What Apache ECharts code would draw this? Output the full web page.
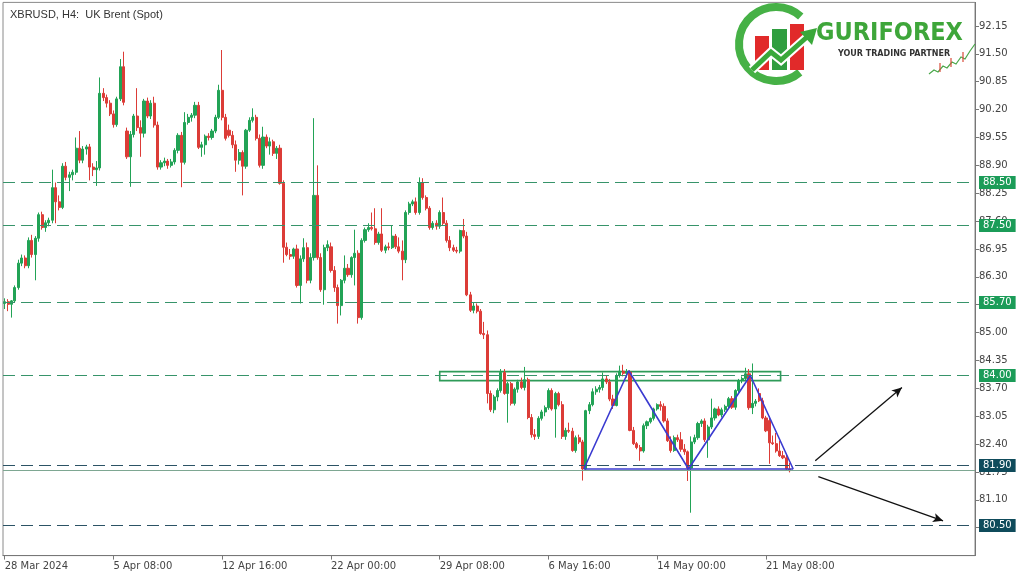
<!DOCTYPE html>
<html><head><meta charset="utf-8">
<script src="https://cdn.jsdelivr.net/npm/echarts@6/dist/echarts.min.js"></script>
<style>html,body{margin:0;padding:0;background:#fff}#c{width:1024px;height:576px}</style>
</head><body><div id="c"></div>
<script>
const chartTitle = 'XBRUSD, H4:  UK Brent (Spot)';
const slotCount = 286;
const tickEvery = 32;
const timeTicks = ['28 Mar 2024','5 Apr 08:00','12 Apr 16:00','22 Apr 00:00','29 Apr 08:00','6 May 16:00','14 May 00:00','21 May 08:00'];
const priceTicks = [80.45,81.10,81.75,82.40,83.05,83.70,84.35,85.00,85.65,86.30,86.95,87.60,88.25,88.90,89.55,90.20,90.85,91.50,92.15];
// [open, high, low, close]
const candles = [
[85.68,85.80,85.55,85.72],[85.72,85.78,85.50,85.66],[85.66,85.76,85.35,85.74],[85.74,86.10,85.70,86.05],
[86.05,86.70,86.00,86.62],[86.62,86.82,86.55,86.74],[86.74,86.80,86.50,86.56],[86.56,87.22,86.50,87.15],
[87.15,87.28,86.75,86.82],[86.82,87.25,86.22,87.20],[87.20,87.80,87.12,87.75],[87.75,87.82,87.40,87.45],
[87.45,87.62,87.35,87.56],[87.56,87.68,87.48,87.62],[87.62,88.80,87.55,88.38],[88.38,88.50,87.55,88.05],
[88.05,88.20,87.85,87.92],[87.92,88.95,87.88,88.88],[88.88,88.98,88.55,88.62],[88.62,88.75,88.30,88.68],
[88.68,88.80,88.55,88.74],[88.74,89.55,88.68,89.30],[89.30,89.70,88.95,89.02],[89.02,89.35,88.95,89.28],
[89.28,89.38,89.15,89.33],[89.33,89.40,88.55,88.86],[88.86,88.95,88.65,88.80],[88.80,89.00,88.42,88.84],
[88.84,90.95,88.78,90.58],[90.58,90.70,90.40,90.48],[90.48,90.55,90.25,90.35],[90.35,90.42,90.05,90.10],
[90.10,90.18,89.78,89.85],[89.85,90.50,89.80,90.45],[90.45,91.38,90.40,91.20],[91.20,91.55,90.30,90.37],
[89.70,89.78,89.05,89.10],[89.10,89.70,88.40,89.62],[89.62,90.10,89.55,90.05],[90.05,90.70,89.70,89.78],
[89.78,89.95,89.10,89.65],[89.65,90.45,89.55,90.40],[90.40,90.48,90.00,90.05],[90.05,90.42,89.98,90.35],
[90.35,90.50,89.78,89.84],[89.84,89.92,88.80,88.86],[88.86,89.02,88.80,88.96],[88.96,89.08,88.88,89.00],
[89.00,89.05,88.82,88.90],[88.90,89.05,88.85,88.98],[88.98,89.30,88.92,89.25],[89.25,89.65,89.18,89.60],
[89.60,89.68,88.39,88.97],[88.97,90.14,88.92,89.90],[89.90,90.10,89.85,90.02],[90.02,90.12,89.92,90.07],
[90.07,90.38,90.00,90.30],[90.30,90.38,89.28,89.32],[89.32,89.45,89.10,89.38],[89.38,89.62,89.15,89.58],
[89.58,89.65,89.48,89.55],[89.55,89.75,89.50,89.70],[89.70,90.08,89.65,90.02],[90.02,90.78,89.98,90.65],
[90.65,91.59,89.95,90.02],[90.02,90.10,89.48,89.53],[89.72,89.85,89.55,89.60],[89.60,89.70,89.30,89.38],
[89.38,89.48,88.75,89.02],[89.02,89.28,88.92,89.20],[89.20,89.25,88.20,88.88],[88.88,89.75,88.82,89.72],
[89.72,90.02,89.68,89.95],[89.95,90.23,89.90,90.02],[90.02,90.08,89.48,89.53],[89.53,89.62,88.85,88.90],
[88.90,89.80,88.82,89.56],[89.56,89.62,89.30,89.35],[89.35,89.55,89.15,89.45],[89.45,89.50,89.12,89.18],
[89.18,89.35,89.05,89.30],[89.30,89.38,88.45,88.48],[88.48,88.55,86.63,86.99],[86.99,87.10,86.78,86.82],
[86.82,86.95,86.70,86.78],[86.78,86.98,86.72,86.95],[86.95,87.05,86.05,86.10],[86.10,86.80,85.68,86.72],
[86.72,87.20,86.65,86.98],[86.98,87.10,86.15,86.22],[86.22,86.85,86.15,86.75],[86.75,90.00,86.68,88.20],
[88.20,88.90,86.70,86.75],[86.75,86.85,85.95,86.00],[86.00,87.05,85.65,86.98],[86.98,87.15,86.90,87.05],
[87.00,87.10,86.40,86.45],[86.45,86.55,85.95,86.05],[86.05,86.12,85.21,85.63],[85.63,86.25,85.40,86.22],
[86.22,86.80,86.15,86.50],[86.50,86.60,86.30,86.35],[86.35,86.78,86.28,86.75],[86.75,87.40,86.10,86.85],
[86.85,86.92,85.21,85.35],[85.35,87.20,85.30,87.15],[87.15,87.45,87.10,87.40],[87.40,87.55,87.35,87.45],
[87.45,87.80,87.38,87.42],[87.42,87.90,87.05,87.10],[87.10,87.35,87.05,87.30],[87.30,87.90,86.88,86.92],
[86.92,87.05,86.85,87.00],[87.00,87.10,86.92,86.98],[86.98,87.50,86.95,87.25],[87.25,87.30,86.95,87.00],
[87.00,87.22,86.85,86.90],[86.90,87.15,86.22,86.70],[86.70,87.85,86.62,87.80],[87.80,88.05,87.75,88.00],
[88.00,88.10,87.95,88.05],[88.05,88.15,87.75,87.80],[87.80,88.62,87.75,88.50],[88.50,88.60,88.10,88.15],
[88.15,88.20,87.85,87.90],[87.90,87.95,87.40,87.45],[87.45,87.60,87.40,87.55],[87.55,87.62,87.40,87.48],
[87.48,87.85,87.42,87.80],[87.80,88.15,87.50,87.55],[87.55,87.62,87.10,87.15],[87.15,87.25,86.90,86.98],
[86.98,87.05,86.88,86.92],[86.92,87.00,86.85,86.90],[86.90,87.40,86.85,87.38],[87.38,87.65,87.20,87.25],
[87.25,87.35,85.85,85.88],[85.88,85.95,85.48,85.52],[85.52,85.70,85.45,85.62],[85.62,85.68,85.45,85.50],
[85.50,85.55,84.95,84.98],[84.98,85.25,84.85,84.95],[84.95,85.05,83.35,83.58],[83.58,83.65,83.15,83.20],
[83.20,83.55,83.12,83.50],[83.50,83.70,83.40,83.65],[83.65,84.15,83.60,84.07],[84.07,84.15,83.55,83.58],
[83.58,83.85,82.90,83.81],[83.81,83.85,83.30,83.35],[83.35,83.72,83.30,83.68],[83.68,83.90,83.60,83.85],
[83.85,83.95,83.68,83.72],[83.72,84.20,83.65,83.90],[83.90,83.95,82.98,83.02],[83.02,83.10,82.55,82.62],
[82.62,82.75,82.50,82.58],[82.58,83.05,82.52,83.00],[83.00,83.20,82.95,83.15],[83.15,83.30,83.05,83.25],
[83.25,83.70,83.20,83.65],[83.65,83.70,83.18,83.22],[83.22,83.62,82.55,83.58],[83.58,83.62,83.28,83.32],
[83.32,83.40,82.52,82.58],[82.58,82.78,82.50,82.72],[82.72,82.90,82.66,82.70],[82.70,82.78,82.22,82.25],
[82.25,82.60,82.20,82.55],[82.55,82.62,82.40,82.45],[82.45,82.50,81.55,81.82],[81.82,83.20,81.78,83.18],
[83.18,83.38,83.10,83.32],[83.32,83.70,83.28,83.62],[83.62,83.75,83.55,83.68],[83.68,83.78,83.60,83.72],
[83.72,84.07,83.65,83.92],[83.92,84.00,83.80,83.85],[83.85,83.92,83.40,83.45],[83.45,83.55,83.22,83.30],
[83.30,84.05,83.28,84.00],[84.00,84.23,83.95,84.10],[84.10,84.25,83.98,84.05],[84.05,84.15,83.95,84.08],
[84.08,84.12,82.70,82.72],[82.72,82.80,82.38,82.41],[82.41,82.45,82.28,82.32],[82.32,82.38,82.01,82.24],
[82.24,82.88,82.20,82.83],[82.83,82.95,82.75,82.92],[82.92,83.02,82.88,83.00],[83.00,83.25,82.95,83.22],
[83.22,83.35,83.18,83.32],[83.32,83.40,83.18,83.28],[83.28,83.35,82.90,82.94],[82.94,83.00,82.45,82.48],
[82.48,82.58,82.20,82.25],[82.25,82.60,82.22,82.55],[82.55,82.62,82.45,82.50],[82.50,82.68,82.22,82.28],
[82.28,82.40,82.15,82.22],[82.22,82.25,81.54,81.84],[81.84,82.58,80.80,82.45],[82.45,82.62,82.40,82.55],
[82.55,82.92,82.50,82.88],[82.88,82.98,82.80,82.94],[82.94,83.00,82.45,82.50],[82.50,82.85,82.08,82.80],
[82.80,83.46,82.75,83.01],[83.01,83.25,82.95,83.22],[83.22,83.28,83.05,83.08],[83.08,83.25,83.02,83.20],
[83.20,83.32,83.15,83.28],[83.28,83.50,83.22,83.46],[83.46,83.52,83.22,83.26],[83.26,83.68,83.20,83.65],
[83.65,83.92,83.60,83.88],[83.88,83.98,83.82,83.93],[83.93,84.18,83.88,84.04],[84.04,84.15,83.20,83.25],
[83.25,84.28,83.10,83.35],[83.35,83.45,83.28,83.40],[83.58,83.70,83.38,83.41],[83.41,83.48,82.98,83.01],
[83.01,83.06,82.68,82.71],[82.95,83.05,81.94,82.43],[82.43,82.60,82.38,82.41],[82.41,82.66,82.20,82.24],
[82.24,82.48,82.10,82.13],[82.13,82.24,82.05,82.08],[82.08,82.17,81.80,81.82],[81.82,81.96,81.74,81.78]
];
const levelsGreen = [88.50, 87.50, 85.70, 84.00];
const levelsDark = [81.90, 80.50];
const bidPrice = 81.78;
const patternX = [170.4, 183.6, 201.2, 219.4, 232.0];
const patternY = [81.82, 84.11, 81.82, 84.00, 81.82];
const boxX = [128, 228.3];
const boxY = [84.09, 83.88];
const arrowUpFrom = [238.5, 82.01], arrowUpTo = [264.0, 83.72];
const arrowDownFrom = [239.4, 81.64], arrowDownTo = [276.1, 80.61];

const FONT = 'DejaVu Sans';
const slots = Array.from({length: slotCount}, (_, i) => i);
const isTick = (i) => i % tickEvery === 0 && (i / tickEvery) < timeTicks.length;

const levelItem = (v, lineColor, bg) => ({
  yAxis: v,
  lineStyle: {color: lineColor, type: [12, 6], width: 1},
  label: {show: true, position: 'end', distance: 4, formatter: v.toFixed(2),
    color: '#fff', backgroundColor: bg, padding: [2, 4, 1, 4], fontSize: 10, fontFamily: FONT}
});

const chart = echarts.init(document.getElementById('c'), null, {renderer: 'canvas'});
chart.setOption({
  animation: false,
  backgroundColor: '#fff',
  title: {text: chartTitle, left: 5, top: 4, textStyle: {fontSize: 11, fontWeight: 'normal', color: '#333', fontFamily: 'Liberation Sans'}},
  grid: {left: 3, width: 972, top: 2.4, height: 553.2, show: true, borderColor: '#8a8a8a', borderWidth: 1, backgroundColor: 'transparent'},
  xAxis: [{
    type: 'category', data: slots, boundaryGap: true,
    axisLine: {onZero: false, lineStyle: {color: '#777'}},
    axisTick: {show: true, interval: (i) => isTick(i), alignWithLabel: true, length: 4, lineStyle: {color: '#777'}},
    axisLabel: {interval: (i) => isTick(i), formatter: (v, i) => timeTicks[i / tickEvery] || '', align: 'left',
      color: '#444', fontSize: 10, fontFamily: FONT, margin: 6},
    splitLine: {show: false}
  }, {
    type: 'value', min: -0.5, max: slotCount - 0.5, show: false, gridIndex: 0,
    axisLine: {show: false, onZero: false}, axisTick: {show: false}, axisLabel: {show: false}, splitLine: {show: false}
  }],
  yAxis: {
    type: 'value', position: 'right', min: 79.8, max: 92.7, scale: true,
    axisLine: {show: true, onZero: false, lineStyle: {color: '#777'}},
    axisTick: {show: true, inside: false, length: 4, customValues: priceTicks, lineStyle: {color: '#777'}},
    axisLabel: {customValues: priceTicks, formatter: (v) => v.toFixed(2), color: '#444', fontSize: 10, fontFamily: FONT, margin: 4},
    splitLine: {show: false}
  },
  series: [{
    type: 'candlestick', xAxisIndex: 0,
    data: candles.map(r => [r[0], r[3], r[2], r[1]]),
    barWidth: 2.6,
    itemStyle: {color: '#22a356', color0: '#dc3c37', borderColor: '#22a356', borderColor0: '#dc3c37', borderWidth: 1},
    markLine: {
      symbol: ['none', 'none'], silent: true, animation: false,
      data: [
        ...levelsGreen.map(v => levelItem(v, '#37946a', '#1b9c58')),
        {yAxis: bidPrice, lineStyle: {color: '#7ea792', type: 'solid', width: 1}, label: {show: false}},
        ...levelsDark.map(v => levelItem(v, '#2c5365', '#0f4b5b'))
      ]
    }
  }, {
    type: 'line', xAxisIndex: 1,
    data: patternX.map((x, i) => [x, patternY[i]]),
    symbol: 'none', lineStyle: {color: '#3b3bd0', width: 1.6}, z: 5,
    markArea: {silent: true, itemStyle: {color: 'rgba(0,0,0,0)', borderColor: '#2e9b58', borderWidth: 1.6},
      data: [[{coord: [boxX[0], boxY[0]]}, {coord: [boxX[1], boxY[1]]}]]},
    markLine: {
      silent: true, symbol: ['none', 'none'], label: {show: false}, animation: false,
      data: [
        [{coord: [patternX[0], patternY[0]], lineStyle: {color: '#3b3bd0', width: 1.6, type: 'solid'}},
         {coord: [patternX[patternX.length - 1], patternY[patternY.length - 1]]}],
        [{coord: arrowUpFrom, lineStyle: {color: '#111', width: 1.3, type: 'solid'}},
         {coord: arrowUpTo, symbol: 'arrow', symbolSize: [7, 10]}],
        [{coord: arrowDownFrom, lineStyle: {color: '#111', width: 1.3, type: 'solid'}},
         {coord: arrowDownTo, symbol: 'arrow', symbolSize: [7, 10]}]
      ]
    }
  }],
  graphic: [
    {type: 'rect', shape: {x: 730, y: 3, width: 244, height: 82}, style: {fill: '#fff'}, z: 50},
    {type: 'arc', shape: {cx: 776, cy: 44, r: 37, startAngle: 50 * Math.PI / 180, endAngle: 312 * Math.PI / 180, clockwise: true},
      style: {stroke: '#46b146', lineWidth: 8, fill: null}, z: 51},
    {type: 'rect', shape: {x: 755, y: 36, width: 14, height: 34}, style: {fill: '#e12a2a'}, z: 52},
    {type: 'rect', shape: {x: 772, y: 29, width: 15, height: 41}, style: {fill: '#2f9e3f'}, z: 52},
    {type: 'rect', shape: {x: 790, y: 24, width: 14, height: 46}, style: {fill: '#e12a2a'}, z: 52},
    {type: 'polyline', shape: {points: [[752, 70], [771, 52], [781, 60], [807, 37]]}, style: {stroke: '#fff', lineWidth: 9, fill: null}, z: 53},
    {type: 'polyline', shape: {points: [[752, 70], [771, 52], [781, 60], [807, 37]]}, style: {stroke: '#3aa83a', lineWidth: 5, fill: null}, z: 54},
    {type: 'polygon', shape: {points: [[817, 28], [800, 32], [812, 45]]}, style: {fill: '#3aa83a'}, z: 54},
    {type: 'text', x: 816, y: 33, style: {text: 'GURIFOREX', font: 'bold 25px "DejaVu Sans Condensed", "DejaVu Sans", sans-serif', fill: '#3ea63a', textVerticalAlign: 'middle'}, z: 55},
    {type: 'text', x: 838, y: 54, style: {text: 'YOUR TRADING PARTNER', font: 'bold 8px "DejaVu Sans", sans-serif', fill: '#333', textVerticalAlign: 'middle'}, z: 55},
    {type: 'polyline', shape: {points: [[929, 74], [934, 70], [938, 72], [943, 66], [947, 68], [952, 62], [956, 64], [961, 57], [965, 59], [970, 51], [975, 44]]},
      style: {stroke: '#4aa84a', lineWidth: 1.2, fill: null}, z: 55},
    {type: 'polyline', shape: {points: [[940, 63], [940, 72]]}, style: {stroke: '#d94a3a', lineWidth: 1.2}, z: 55},
    {type: 'polyline', shape: {points: [[951, 58], [951, 67]]}, style: {stroke: '#d94a3a', lineWidth: 1.2}, z: 55},
    {type: 'polyline', shape: {points: [[963, 52], [963, 62]]}, style: {stroke: '#d94a3a', lineWidth: 1.2}, z: 55}
  ]
});
</script></body></html>
